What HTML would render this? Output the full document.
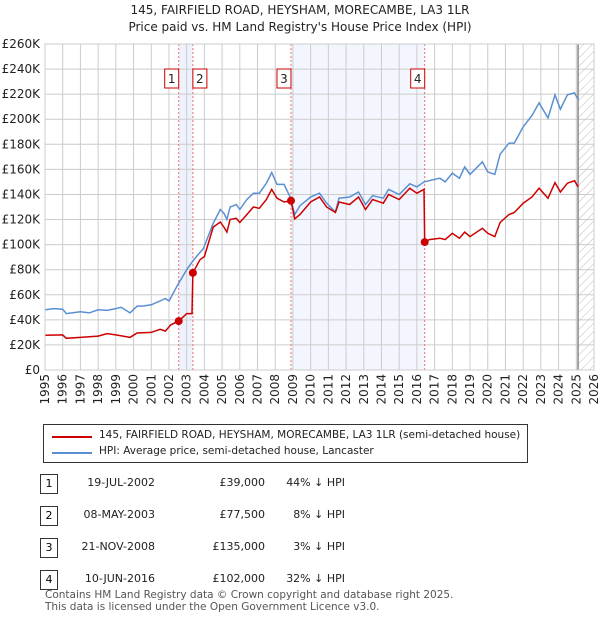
<!DOCTYPE html>
<html><head><meta charset="utf-8"><style>
body{margin:0;background:#fff;font-family:"DejaVu Sans","Liberation Sans",sans-serif;}
#wrap{position:relative;width:600px;height:620px;overflow:hidden;}
.t{position:absolute;font-size:12px;color:#222;white-space:nowrap;}
</style></head><body>
<div id="wrap">
<div class="t" style="left:0;width:600px;text-align:center;top:3px;font-size:12px;">145, FAIRFIELD ROAD, HEYSHAM, MORECAMBE, LA3 1LR</div>
<div class="t" style="left:0;width:600px;text-align:center;top:20px;font-size:12px;">Price paid vs. HM Land Registry's House Price Index (HPI)</div>
<svg id="chart" width="600" height="410" style="position:absolute;left:0;top:0;font-family:'DejaVu Sans',sans-serif"></svg>
<div style="position:absolute;left:43px;top:424px;width:483px;height:37px;border:1px solid #333;">
<div style="position:absolute;left:8px;top:11px;width:40px;height:2px;background:#cc0000"></div>
<div class="t" style="left:55px;top:4px;font-size:10.5px">145, FAIRFIELD ROAD, HEYSHAM, MORECAMBE, LA3 1LR (semi-detached house)</div>
<div style="position:absolute;left:8px;top:27px;width:40px;height:2px;background:#5b8fd4"></div>
<div class="t" style="left:55px;top:20px;font-size:10.5px">HPI: Average price, semi-detached house, Lancaster</div>
</div>
<div id="table"></div>
<div class="t" style="left:45px;top:589px;font-size:10.5px;color:#555">Contains HM Land Registry data © Crown copyright and database right 2025.</div>
<div class="t" style="left:45px;top:601px;font-size:10.5px;color:#555">This data is licensed under the Open Government Licence v3.0.</div>
</div>
<script>
const hpiYears=[1995,1995.5,1996,1996.2,1997,1997.5,1998,1998.5,1999,1999.3,1999.8,2000.2,2000.5,2001,2001.5,2001.8,2002,2002.5,2003,2003.4,2003.95,2004.5,2004.9,2005.1,2005.27,2005.45,2005.8,2006,2006.4,2006.77,2007.1,2007.5,2007.8,2008.1,2008.5,2008.84,2009.1,2009.4,2010,2010.5,2010.9,2011.4,2011.6,2012.2,2012.7,2013.1,2013.5,2014.1,2014.4,2015,2015.6,2016,2016.4,2017.3,2017.6,2018,2018.4,2018.7,2019,2019.7,2020,2020.4,2020.7,2021.2,2021.5,2022,2022.5,2022.9,2023.4,2023.8,2024.1,2024.5,2024.9,2025.1];
const hpiValues=[48,49,48.5,45,46.5,45.5,48,47.5,49,50,45.5,51,51,52,55,57,55,68,80,88,97,117,128,125,120,130,132,128,136,141,141,149,157.5,148,148,138,124,131,138,141,133,126,137,138,142,132,139,137,144,140,148.5,146,150,153,150,157,153,162,156,166,158,156,172,181,181,194,203,213,201,219.5,208,219.5,221,216];
const paidYears=[1995,1996,1996.2,1997,1998,1998.5,1999,1999.8,2000.2,2001,2001.5,2001.8,2002.1,2002.55,2003,2003.3,2003.35,2003.75,2004,2004.5,2004.9,2005.1,2005.27,2005.45,2005.8,2006,2006.4,2006.77,2007.1,2007.5,2007.8,2008.1,2008.5,2008.89,2009.1,2009.4,2010,2010.5,2010.9,2011.4,2011.6,2012.2,2012.7,2013.1,2013.5,2014.1,2014.4,2015,2015.6,2016,2016.4,2016.44,2016.7,2017.3,2017.6,2018,2018.4,2018.7,2019,2019.7,2020,2020.4,2020.7,2021.2,2021.5,2022,2022.5,2022.9,2023.4,2023.8,2024.1,2024.5,2024.9,2025.1];
const paidValues=[27.7,28,25.3,26,27,29,28,26,29.5,30,32.5,31,36,39,45,45,77.5,88,90.5,114,118,114,110,120,121,117.6,124,130,129,136,144,137,134,135,120.5,124,134,138,130,125.6,134,132,138,128,136,133,140,136,145,141,144,102,104,105,104,109,105,110,106.4,113,109,106.4,117.6,124,125.6,133,138,145,137,149.5,142,149,151,146];
const saleYears=[2002.55,2003.35,2008.89,2016.44];
const salePrices=[39,77.5,135,102];
const saleLabels=["1","2","3","4"];
const saleDates=["19-JUL-2002","08-MAY-2003","21-NOV-2008","10-JUN-2016"];
const salePriceText=["£39,000","£77,500","£135,000","£102,000"];
const saleHpiText=["44% ↓ HPI","8% ↓ HPI","3% ↓ HPI","32% ↓ HPI"];
const yTicks=[0,20,40,60,80,100,120,140,160,180,200,220,240,260];

const X0=45,X1=594,Y0=370,Y1=44,YR0=1995,YR1=2026;
const xs=y=>X0+(y-YR0)/(YR1-YR0)*(X1-X0);
const ys=v=>Y0-v/260*(Y0-Y1);
const svg=document.getElementById('chart');const NS='http://www.w3.org/2000/svg';
function mk(tag,at,parent){const e=document.createElementNS(NS,tag);for(const k in at)e.setAttribute(k,at[k]);(parent||svg).appendChild(e);return e;}
const defs=mk('defs',{});const pat=mk('pattern',{id:'h',width:6,height:6,patternUnits:'userSpaceOnUse',patternTransform:'rotate(45)'},defs);
mk('line',{x1:0,y1:0,x2:0,y2:6,stroke:'#bbb','stroke-width':1},pat);
let e=mk('rect',{x:xs(saleYears[0]),y:Y1,width:xs(saleYears[1])-xs(saleYears[0]),height:Y0-Y1,fill:'#eef2fc'});

e=mk('rect',{x:xs(saleYears[2]),y:Y1,width:xs(saleYears[3])-xs(saleYears[2]),height:Y0-Y1,fill:'#f3f6fe'});

e=mk('rect',{x:xs(2025.1),y:Y1,width:X1-xs(2025.1),height:Y0-Y1,fill:'url(#h)'});

for(let y=YR0;y<=YR1;y++){e=mk('line',{x1:xs(y),x2:xs(y),y1:Y1,y2:Y0,stroke:'#ccc','stroke-width':1});

const tx=xs(y)+4,ty=374;
const t=mk('text',{x:tx,y:ty,'text-anchor':'end','font-size':12,fill:'#222',transform:'rotate(-90 '+tx+' '+ty+')'});t.textContent=y;
}
yTicks.forEach(v=>{e=mk('line',{x1:X0,x2:X1,y1:ys(v),y2:ys(v),stroke:'#ccc','stroke-width':1});

const t=mk('text',{x:40,y:ys(v)+4,'text-anchor':'end','font-size':12,fill:'#222'});t.textContent='£'+v+(v?'K':'');
});
e=mk('line',{x1:xs(2025.1),x2:xs(2025.1),y1:Y1,y2:Y0,stroke:'#888','stroke-width':1.5});

saleYears.forEach((s,i)=>{e=mk('line',{x1:xs(s),x2:xs(s),y1:Y1,y2:Y0,stroke:'#f07070','stroke-width':1,'stroke-dasharray':'2,2'});
});
const pts=(a,b)=>a.map((y,i)=>xs(y).toFixed(1)+','+ys(b[i]).toFixed(1)).join(' ');
e=mk('polyline',{points:pts(hpiYears,hpiValues),fill:'none',stroke:'#5b8fd4','stroke-width':1.5});

e=mk('polyline',{points:pts(paidYears,paidValues),fill:'none',stroke:'#cc0000','stroke-width':1.5});

saleYears.forEach((s,i)=>{e=mk('circle',{cx:xs(s),cy:ys(salePrices[i]),r:4,fill:'#cc0000'});

const bx=i==1?xs(s):xs(s)-14;
const g=mk('g',{});
mk('rect',{x:bx,y:69,width:14,height:19,fill:'#fff',stroke:'#cc0000','stroke-width':1},g);
const t=mk('text',{x:bx+7,y:83,'text-anchor':'middle','font-size':12,fill:'#222'},g);t.textContent=saleLabels[i];});
mk('rect',{x:X0,y:Y1,width:X1-X0,height:Y0-Y1,fill:'none',stroke:'#ccc'});
const tb=document.getElementById('table');
saleLabels.forEach((l,i)=>{const y=474+i*32;
const row=document.createElement('div');
row.innerHTML='<div style="position:absolute;left:40px;top:'+y+'px;width:16px;height:18px;border:1px solid #333;font-size:11px;text-align:center;line-height:18px">'+l+'</div>'+
'<div class="t" style="left:55px;width:100px;text-align:right;top:'+(y+2)+'px;font-size:11px">'+saleDates[i]+'</div>'+
'<div class="t" style="left:165px;width:100px;text-align:right;top:'+(y+2)+'px;font-size:11px">'+salePriceText[i]+'</div>'+
'<div class="t" style="left:245px;width:100px;text-align:right;top:'+(y+2)+'px;font-size:11px">'+saleHpiText[i]+'</div>';
tb.appendChild(row);});
</script>
</body></html>
